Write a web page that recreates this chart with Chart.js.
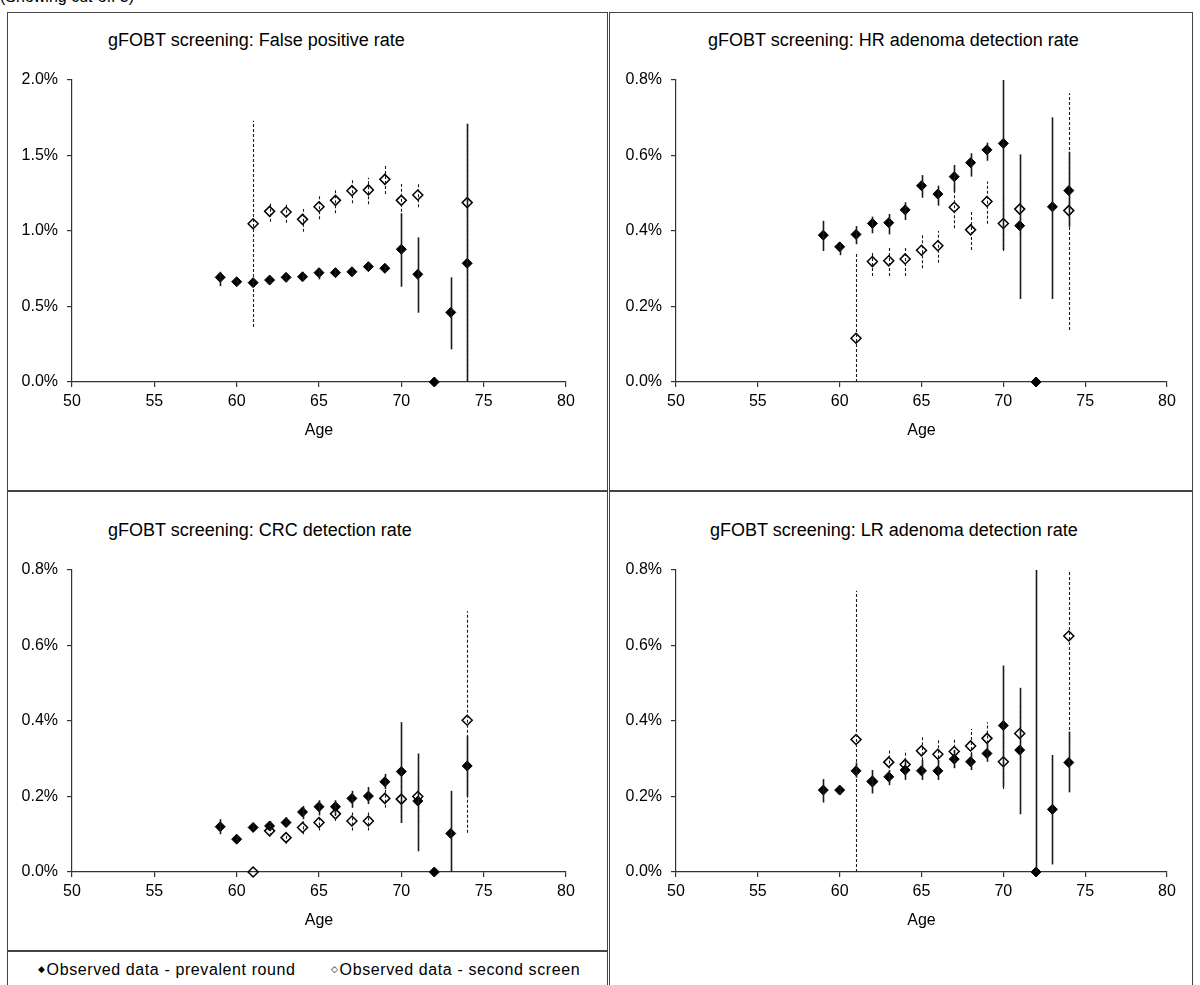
<!DOCTYPE html>
<html>
<head>
<meta charset="utf-8">
<script src="https://cdn.jsdelivr.net/npm/chart.js@4.4.1/dist/chart.umd.min.js"></script>
<style>
  body { margin: 0; background: #fff; font-family: 'Liberation Sans', Arial, sans-serif; }
  #page { position: relative; width: 1200px; height: 985px; overflow: hidden; }
  .box { position: absolute; border: 1.5px solid #444; box-sizing: border-box; }
  canvas { position: absolute; }
  .title { position: absolute; font-size: 18px; color: #000; white-space: nowrap; }
  .legend { position: absolute; font-size: 16px; color: #000; white-space: nowrap; letter-spacing: 0.6px; }
  .mk { font-size: 9px; vertical-align: 3px; margin-right: 1px; }
</style>
</head>
<body>
<div id="page">
  <div class="title" style="left:0; top:-12px; font-size:16px;">(Showing cut-off 3)</div>

  <div class="box" style="left:7px; top:12px; width:601px; height:480px;"></div>
  <div class="box" style="left:609px; top:12px; width:584px; height:480px;"></div>
  <div class="box" style="left:7px; top:490px; width:601px; height:462px;"></div>
  <div class="box" style="left:7px; top:950px; width:601px; height:60px;"></div>
  <div class="box" style="left:609px; top:490px; width:584px; height:520px;"></div>

  <div class="title" style="left:108px; top:30px;">gFOBT screening: False positive rate</div>
  <div class="title" style="left:708px; top:30px;">gFOBT screening: HR adenoma detection rate</div>
  <div class="title" style="left:108px; top:520px;">gFOBT screening: CRC detection rate</div>
  <div class="title" style="left:710px; top:520px;">gFOBT screening: LR adenoma detection rate</div>

  <canvas id="c1" width="598" height="477" style="left:8px; top:13px;"></canvas>
  <canvas id="c2" width="580" height="477" style="left:611px; top:13px;"></canvas>
  <canvas id="c3" width="598" height="458" style="left:8px; top:491px;"></canvas>
  <canvas id="c4" width="580" height="494" style="left:611px; top:491px;"></canvas>

  <div class="legend" style="left:38px; top:961px;"><span class="mk">◆</span>Observed data - prevalent round</div>
  <div class="legend" style="left:331px; top:961px;"><span class="mk">◇</span>Observed data - second screen</div>
</div>

<script>
// ages for each series
const agesPrev = [59, 60, 61, 62, 63, 64, 65, 66, 67, 68, 69, 70, 71, 72, 73, 74];
const agesSecond = [61, 62, 63, 64, 65, 66, 67, 68, 69, 70, 71, 74];

// False positive rate (%)
const fpPrev   = [0.693, 0.664, 0.658, 0.675, 0.693, 0.697, 0.724, 0.724, 0.730, 0.764, 0.753, 0.879, 0.713, 0, 0.461, 0.786];
const fpPrevLo = [0.635, 0.645, 0.640, 0.655, 0.665, 0.675, 0.680, 0.700, 0.700, 0.740, 0.735, 0.631, 0.459, 0, 0.216, 0];
const fpPrevHi = [0.730, 0.680, 0.675, 0.695, 0.720, 0.720, 0.753, 0.745, 0.760, 0.790, 0.770, 1.117, 0.958, 0, 0.693, 1.71];
const fpSec    = [1.048, 1.130, 1.126, 1.077, 1.161, 1.203, 1.267, 1.272, 1.342, 1.203, 1.238, 1.188];
const fpSecLo  = [0.364, 1.062, 1.055, 0.995, 1.077, 1.117, 1.183, 1.177, 1.245, 1.095, 1.157, 0];
const fpSecHi  = [1.73, 1.194, 1.183, 1.146, 1.232, 1.276, 1.344, 1.353, 1.430, 1.311, 1.311, 1.71];

// HR adenoma detection rate (%)
const hrPrev   = [0.389, 0.358, 0.391, 0.420, 0.422, 0.456, 0.520, 0.498, 0.544, 0.581, 0.615, 0.632, 0.414, 0, 0.464, 0.507];
const hrPrevLo = [0.347, 0.336, 0.365, 0.394, 0.391, 0.429, 0.488, 0.467, 0.504, 0.544, 0.586, 0.350, 0.220, 0, 0.220, 0.411];
const hrPrevHi = [0.427, 0.367, 0.413, 0.438, 0.445, 0.476, 0.548, 0.520, 0.575, 0.606, 0.634, 0.820, 0.603, 0, 0.701, 0.610];
const hrSec    = [0.116, 0.319, 0.321, 0.326, 0.349, 0.361, 0.463, 0.403, 0.478, 0.420, 0.458, 0.454];
const hrSecLo  = [0, 0.281, 0.281, 0.281, 0.301, 0.316, 0.407, 0.350, 0.419, 0.347, 0.390, 0.138];
const hrSecHi  = [0.343, 0.347, 0.357, 0.360, 0.391, 0.400, 0.520, 0.451, 0.531, 0.491, 0.530, 0.765];

// CRC detection rate (%)
const crcPrev   = [0.120, 0.087, 0.118, 0.122, 0.131, 0.159, 0.173, 0.173, 0.195, 0.201, 0.239, 0.266, 0.188, 0, 0.102, 0.281];
const crcPrevLo = [0.100, 0.080, 0.110, 0.110, 0.120, 0.140, 0.150, 0.150, 0.170, 0.180, 0.220, 0.130, 0.055, 0, 0, 0.200];
const crcPrevHi = [0.140, 0.095, 0.130, 0.135, 0.145, 0.175, 0.190, 0.190, 0.215, 0.225, 0.260, 0.397, 0.314, 0, 0.215, 0.360];
const crcSec    = [0, 0.109, 0.091, 0.118, 0.131, 0.154, 0.135, 0.135, 0.195, 0.193, 0.200, 0.402];
const crcSecLo  = [0, 0.095, 0.075, 0.100, 0.110, 0.135, 0.110, 0.110, 0.170, 0.130, 0.130, 0.104];
const crcSecHi  = [0, 0.125, 0.105, 0.135, 0.150, 0.175, 0.160, 0.160, 0.220, 0.250, 0.250, 0.691];

// LR adenoma detection rate (%)
const lrPrev   = [0.217, 0.217, 0.268, 0.239, 0.252, 0.270, 0.268, 0.268, 0.299, 0.292, 0.314, 0.388, 0.323, 0, 0.166, 0.290];
const lrPrevLo = [0.184, 0.205, 0.250, 0.208, 0.230, 0.244, 0.244, 0.244, 0.275, 0.270, 0.292, 0.226, 0.153, 0, 0.020, 0.211];
const lrPrevHi = [0.246, 0.225, 0.290, 0.270, 0.270, 0.297, 0.297, 0.297, 0.323, 0.314, 0.341, 0.547, 0.488, 1.0, 0.310, 0.372];
const lrSec    = [0.351, 0.240, 0.291, 0.285, 0.321, 0.312, 0.319, 0.334, 0.354, 0.292, 0.367, 0.625];
const lrSecLo  = [0, 0.210, 0.261, 0.255, 0.283, 0.275, 0.276, 0.297, 0.314, 0.220, 0.300, 0.350];
const lrSecHi  = [0.745, 0.270, 0.325, 0.322, 0.358, 0.350, 0.353, 0.379, 0.397, 0.360, 0.440, 1.0];

Chart.defaults.font.family = "'Liberation Sans', Arial, sans-serif";
Chart.defaults.font.size = 16;
Chart.defaults.color = '#000';

// vertical error lines, drawn through the scales
const errorBars = {
  id: 'errorBars',
  afterDatasetsDraw(chart) {
    const { ctx, chartArea: a, scales: { x, y } } = chart;
    ctx.save();
    ctx.beginPath();
    ctx.rect(a.left, a.top, a.right - a.left, a.bottom - a.top);
    ctx.clip();
    chart.data.datasets.forEach(ds => {
      ctx.strokeStyle = '#1a1a1a';
      ctx.lineWidth = ds.errWidth;
      ctx.setLineDash(ds.errDash);
      ds.data.forEach((p, i) => {
        if (ds.lo[i] === ds.hi[i]) return;
        const px = Math.round(x.getPixelForValue(p.x)) + 0.5;
        ctx.beginPath();
        ctx.moveTo(px, y.getPixelForValue(ds.lo[i]));
        ctx.lineTo(px, y.getPixelForValue(ds.hi[i]));
        ctx.stroke();
      });
    });
    ctx.restore();
  }
};

function points(ages, vals) {
  return ages.map((a, i) => ({ x: a, y: vals[i] }));
}

function makePanel(id, yMax, yStep, pad, prev, prevLo, prevHi, sec, secLo, secHi) {
  new Chart(document.getElementById(id), {
    type: 'scatter',
    data: {
      datasets: [
        {
          label: 'Observed data - prevalent round',
          data: points(agesPrev, prev),
          lo: prevLo, hi: prevHi, errWidth: 1.6, errDash: [],
          pointStyle: 'rectRot', pointRadius: 5, pointHoverRadius: 5,
          backgroundColor: '#000', borderColor: '#000', borderWidth: 1,
          clip: false
        },
        {
          label: 'Observed data - second screen',
          data: points(agesSecond, sec),
          lo: secLo, hi: secHi, errWidth: 1.1, errDash: [3, 2],
          pointStyle: 'rectRot', pointRadius: 5, pointHoverRadius: 5,
          backgroundColor: 'rgba(255,255,255,0)', borderColor: '#000', borderWidth: 1.5,
          clip: false
        }
      ]
    },
    options: {
      responsive: false,
      animation: false,
      events: [],
      layout: { padding: pad },
      plugins: { legend: { display: false }, tooltip: { enabled: false } },
      scales: {
        x: {
          type: 'linear', min: 50, max: 80,
          afterFit: s => { s.height = 58; },
          border: { color: '#333', width: 1.2 },
          grid: { drawOnChartArea: false, tickLength: 5, color: '#333', lineWidth: 1.2 },
          ticks: { stepSize: 5, padding: 5, maxRotation: 0, autoSkip: false },
          title: { display: true, text: 'Age', padding: 0, font: { size: 16 } }
        },
        y: {
          min: 0, max: yMax,
          afterFit: s => { s.width = pad.yw; },
          border: { color: '#333', width: 1.2 },
          grid: { drawOnChartArea: false, tickLength: 5, color: '#333', lineWidth: 1.2 },
          ticks: { stepSize: yStep, padding: 9, callback: v => v.toFixed(1) + '%' }
        }
      }
    },
    plugins: [errorBars]
  });
}

makePanel('c1', 2.0, 0.5, { top: 67, left: 0, right: 40, bottom: 50, yw: 64 },
  fpPrev, fpPrevLo, fpPrevHi, fpSec, fpSecLo, fpSecHi);
makePanel('c2', 0.8, 0.2, { top: 67, left: 0, right: 24, bottom: 50, yw: 65 },
  hrPrev, hrPrevLo, hrPrevHi, hrSec, hrSecLo, hrSecHi);
makePanel('c3', 0.8, 0.2, { top: 79, left: 0, right: 40, bottom: 19, yw: 64 },
  crcPrev, crcPrevLo, crcPrevHi, crcSec, crcSecLo, crcSecHi);
makePanel('c4', 0.8, 0.2, { top: 79, left: 0, right: 24, bottom: 55, yw: 65 },
  lrPrev, lrPrevLo, lrPrevHi, lrSec, lrSecLo, lrSecHi);
</script>
</body>
</html>
